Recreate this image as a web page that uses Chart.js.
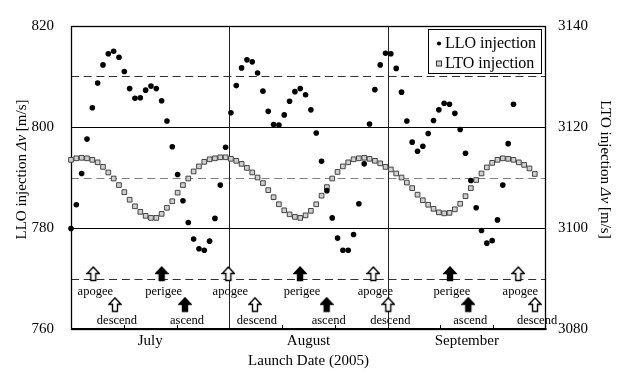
<!DOCTYPE html>
<html><head><meta charset="utf-8">
<script src="https://cdn.jsdelivr.net/npm/chart.js@4/dist/chart.umd.min.js"></script>
<style>html,body{margin:0;padding:0;background:#fff}</style>
</head><body>
<canvas id="c" width="618" height="372"></canvas>
<script>
// ---- data (one value per launch day, starting 1 July 2005) ----
const months = ['July', 'August', 'September'];
const monthSpan = 29.7; // x-units (days) shown per month
const lloInjection = [
  779.9,784.6,790.8,797.6,803.8,808.7,812.3,814.5,815.0,813.8,
  811.0,807.6,805.7,805.8,807.3,808.1,807.6,805.2,801.2,796.1,
  790.6,785.4,781.1,777.8,775.9,775.6,777.4,781.9,788.5,796.0,
  802.8,808.2,811.7,813.3,812.9,810.7,807.1,803.1,800.5,800.4,
  802.4,805.1,807.0,807.6,806.4,803.4,798.8,793.2,787.4,782.0,
  778.0,775.6,775.6,778.7,784.8,792.7,800.6,807.4,812.3,814.6,
  814.5,811.6,806.9,801.2,797.0,795.2,796.2,798.7,801.3,803.4,
  804.7,804.5,802.7,799.5,794.8,789.4,784.0,779.5,777.0,777.5,
  781.6,788.5,796.7,804.5,811.0
];
const ltoInjection = [
  3113.5,3113.8,3113.9,3113.8,3113.5,3113.0,3112.1,3111.0,3109.8,3108.5,
  3107.1,3105.6,3104.3,3103.2,3102.4,3102.0,3102.0,3102.8,3104.0,3105.3,
  3107.0,3108.5,3109.8,3111.2,3112.2,3113.1,3113.6,3113.8,3114.0,3114.0,
  3113.7,3113.3,3112.7,3111.9,3111.0,3110.0,3108.9,3107.5,3106.1,3104.7,
  3103.5,3102.7,3102.2,3102.0,3102.5,3103.4,3104.7,3106.4,3108.1,3109.8,
  3111.1,3112.2,3113.0,3113.6,3113.8,3113.9,3113.7,3113.3,3112.8,3112.1,
  3111.6,3110.8,3110.0,3109.0,3107.9,3106.6,3105.5,3104.6,3103.8,3103.1,
  3102.9,3103.0,3103.7,3104.8,3106.3,3107.9,3109.5,3110.8,3112.0,3112.9,
  3113.5,3113.8,3113.7,3113.5,3113.0,3112.5,3111.8,3110.7
];
const eventNames = ['apogee','descend','perigee','ascend','apogee','descend','perigee','ascend',
                    'apogee','descend','perigee','ascend','apogee','descend'];
const eventDays  = [4.18, 8.25, 17.01, 21.38, 29.51, 34.51, 42.96, 47.96,
                    56.71, 59.52, 71.09, 74.52, 83.90, 87.04];
const seriesNames = ['LLO injection', 'LTO injection'];
const leftTitle = 'LLO injection \u0394v [m/s]';
const rightTitle = 'LTO injection \u0394v [m/s]';
const xTitle = 'Launch Date (2005)';

// ---- styling ----
const SERIF = "'Liberation Serif','Times New Roman',serif";
Chart.defaults.font.family = SERIF;
Chart.defaults.color = '#000';

function makeArrow(fill) {
  const c = document.createElement('canvas');
  c.width = 14; c.height = 16;
  const g = c.getContext('2d');
  g.beginPath();
  g.moveTo(7, 1);
  g.lineTo(13, 7.5);
  g.lineTo(9.5, 7.5);
  g.lineTo(9.5, 14.5);
  g.lineTo(4.5, 14.5);
  g.lineTo(4.5, 7.5);
  g.lineTo(1, 7.5);
  g.closePath();
  g.fillStyle = fill; g.fill();
  g.lineJoin = 'miter';
  g.lineWidth = 1.4; g.strokeStyle = '#000'; g.stroke();
  return c;
}
const openArrow = makeArrow('#fff');
const solidArrow = makeArrow('#000');
const isUpperEvent = n => n === 'apogee' || n === 'perigee';
const isOpenEvent = n => n === 'apogee' || n === 'descend';

const decor = {
  id: 'decor',
  beforeDatasetsDraw(chart) {
    const {ctx, chartArea: a, scales: {x, y}} = chart;
    ctx.save();
    // horizontal guide lines every 10 m/s
    for (let v = y.min + 10; v < y.max; v += 10) {
      const py = Math.round(y.getPixelForValue(v)) + 0.5;
      ctx.beginPath();
      ctx.lineWidth = 1;
      if ((v - y.min) % 20 === 0) {
        ctx.setLineDash([]); ctx.strokeStyle = '#000';
      } else {
        ctx.setLineDash([8, 4.7]);
        ctx.strokeStyle = (v === 790) ? '#808080' : '#303030';
      }
      ctx.moveTo(a.left, py); ctx.lineTo(a.right, py); ctx.stroke();
    }
    ctx.setLineDash([]);
    // month separators
    for (let k = 1; k < months.length; k++) {
      const px = Math.round(x.getPixelForValue(monthSpan * k)) + 0.5;
      ctx.beginPath(); ctx.strokeStyle = '#222'; ctx.lineWidth = 1;
      ctx.moveTo(px, a.top); ctx.lineTo(px, a.bottom); ctx.stroke();
    }
    // minor inward ticks (thirds of a month)
    for (let k = 1; k < months.length * 3; k++) {
      if (k % 3 === 0) continue;
      const px = Math.round(x.getPixelForValue(monthSpan * k / 3)) + 0.5;
      ctx.beginPath(); ctx.strokeStyle = '#000'; ctx.lineWidth = 1;
      ctx.moveTo(px, a.bottom); ctx.lineTo(px, a.bottom - 4); ctx.stroke();
    }
    // frame
    ctx.strokeStyle = '#000';
    ctx.lineWidth = 1.3;
    ctx.strokeRect(a.left + 0.5, a.top + 0.5, a.right - a.left - 1, a.bottom - a.top);
    ctx.lineWidth = 2;
    ctx.beginPath(); ctx.moveTo(a.left, a.bottom); ctx.lineTo(a.right + 0.5, a.bottom); ctx.stroke();
    ctx.restore();
  },
  afterDatasetsDraw(chart) {
    const {ctx, chartArea: a} = chart;
    ctx.save();
    // event labels under arrows
    const meta = chart.getDatasetMeta(2);
    ctx.font = '12.5px ' + SERIF;
    ctx.fillStyle = '#000';
    ctx.textAlign = 'center';
    ctx.textBaseline = 'middle';
    meta.data.forEach((pt, i) => {
      const off = isUpperEvent(eventNames[i]) ? 18 : 16;
      ctx.fillText(eventNames[i], pt.x + 2, pt.y + off);
    });
    // legend box
    const bx = a.right - 118, by = a.top + 3, bw = 113, bh = 44;
    ctx.fillStyle = '#fff';
    ctx.fillRect(bx, by, bw, bh);
    ctx.lineWidth = 1; ctx.strokeStyle = '#000';
    ctx.strokeRect(bx + 0.5, by + 0.5, bw, bh);
    ctx.font = '16px ' + SERIF;
    ctx.textAlign = 'left';
    ctx.fillStyle = '#000';
    ctx.beginPath(); ctx.arc(bx + 11, by + 14.5, 2.1, 0, Math.PI * 2); ctx.fill();
    ctx.fillText(chart.data.datasets[0].label, bx + 17, by + 14.5);
    ctx.fillStyle = '#d0d0d0'; ctx.fillRect(bx + 8.5, by + 32, 5, 5);
    ctx.strokeStyle = '#333'; ctx.strokeRect(bx + 8.5, by + 32, 5, 5);
    ctx.fillStyle = '#000';
    ctx.fillText(chart.data.datasets[1].label, bx + 17, by + 34.5);
    ctx.restore();
  },
  afterDraw(chart) {
    const {ctx, chartArea: a} = chart;
    const cy = (a.top + a.bottom) / 2 - 8;
    function drawTitle(text, cx, cy, angle) {
      const parts = text.split('\u0394v');
      const pieces = [{t: parts[0], it: false}, {t: '\u0394v', it: true}, {t: parts[1], it: false}];
      ctx.save();
      let total = 0;
      pieces.forEach(p => {
        ctx.font = (p.it ? 'italic ' : '') + '15px ' + SERIF;
        p.w = ctx.measureText(p.t).width; total += p.w;
      });
      ctx.translate(cx, cy); ctx.rotate(angle);
      ctx.textBaseline = 'middle'; ctx.textAlign = 'left'; ctx.fillStyle = '#000';
      let pos = -total / 2;
      pieces.forEach(p => {
        ctx.font = (p.it ? 'italic ' : '') + '15px ' + SERIF;
        ctx.fillText(p.t, pos, 0); pos += p.w;
      });
      ctx.restore();
    }
    drawTitle(leftTitle, 22, cy, -Math.PI / 2);
    drawTitle(rightTitle, 605, cy, Math.PI / 2);
  }
};

const monthCenters = months.map((m, i) => monthSpan * (i + 0.5));

new Chart(document.getElementById('c'), {
  type: 'scatter',
  data: {
    datasets: [
      {
        label: seriesNames[0],
        data: lloInjection.map((v, i) => ({x: i, y: v})),
        yAxisID: 'y',
        pointStyle: 'circle', pointRadius: 2.8,
        backgroundColor: '#000', borderColor: '#000', borderWidth: 0,
        clip: false
      },
      {
        label: seriesNames[1],
        data: ltoInjection.map((v, i) => ({x: i, y: v})),
        yAxisID: 'y2',
        pointStyle: 'rect', pointRadius: 3.3,
        backgroundColor: '#d0d0d0', borderColor: '#444', borderWidth: 1,
        clip: false
      },
      {
        label: 'events',
        data: eventDays.map((d, i) => ({x: d, y: isUpperEvent(eventNames[i]) ? 770.9 : 764.8})),
        yAxisID: 'y',
        pointStyle: ctx => isOpenEvent(eventNames[ctx.dataIndex]) ? openArrow : solidArrow,
        pointRadius: 7,
        clip: false
      }
    ]
  },
  options: {
    responsive: false,
    animation: false,
    events: [],
    layout: {padding: {top: 15, left: 0, right: 0, bottom: 0}},
    plugins: {legend: {display: false}, tooltip: {enabled: false}},
    scales: {
      x: {
        type: 'linear', min: 0, max: monthSpan * months.length,
        afterBuildTicks: s => { s.ticks = monthCenters.map(v => ({value: v})); },
        ticks: {callback: (v, i) => months[i], font: {size: 15}, padding: 3, maxRotation: 0, autoSkip: false},
        grid: {display: false, drawTicks: false},
        border: {display: false},
        title: {display: true, text: xTitle, font: {size: 15}, padding: {top: 0, bottom: 1.5}},
        afterFit: s => { s.height = 43; }
      },
      y: {
        position: 'left', min: 760, max: 820,
        ticks: {stepSize: 20, font: {size: 15}, padding: 17, callback: v => String(v)},
        grid: {display: false, drawTicks: false},
        border: {display: false},
        afterFit: s => { s.width = 71; }
      },
      y2: {
        position: 'right', min: 3080, max: 3140,
        ticks: {stepSize: 20, font: {size: 15}, padding: 12, callback: v => String(v)},
        grid: {display: false, drawTicks: false},
        border: {display: false},
        afterFit: s => { s.width = 72; }
      }
    }
  },
  plugins: [decor]
});
</script>
</body></html>
